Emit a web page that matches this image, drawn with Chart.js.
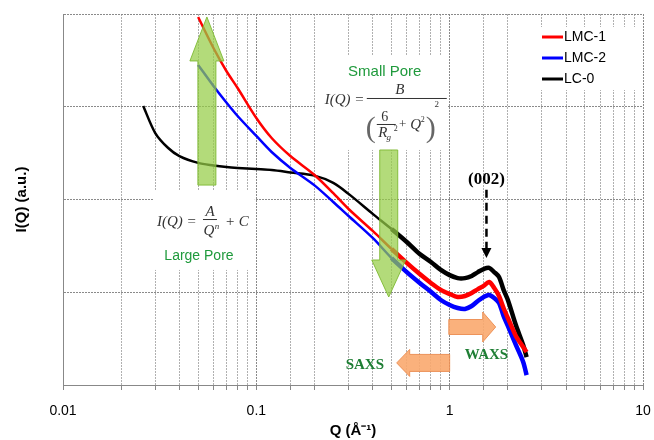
<!DOCTYPE html>
<html>
<head>
<meta charset="utf-8">
<script src="https://cdn.jsdelivr.net/npm/chart.js@4.4.0/dist/chart.umd.min.js"></script>
<style>
  html, body { margin: 0; padding: 0; background: #fff; }
  #wrap { width: 654px; height: 440px; }
</style>
</head>
<body>
<div id="wrap"><canvas id="chart" width="654" height="440"></canvas></div>
<script>
// Q values (1/Angstrom) and intensities (a.u.)
const qValues = [0.026, 0.03, 0.035, 0.04, 0.05, 0.06, 0.07, 0.08, 0.1, 0.12, 0.15, 0.2, 0.25, 0.3,
  0.4, 0.5, 0.6, 0.7, 0.8, 0.9, 1.0, 1.1, 1.2, 1.3, 1.4, 1.5, 1.6, 1.7, 1.8, 1.9, 2.0, 2.2, 2.4, 2.5];

const lmc1 = [null, null, null, null, 9290, 4300, 2430, 1593, 756, 460, 294, 184, 117, 79,
  45.8, 29.3, 20.7, 15.7, 12.6, 10.6, 9.58, 8.89, 9.11, 9.82, 10.8, 11.7, 12.9, 11.1, 9.11, 6.76, 5.28, 3.38, 2.57, 2.27];

const lmc2 = [null, null, null, null, 2820, 1675, 1111, 795, 484, 325, 219, 142, 94, 66.4,
  38.5, 23.4, 16.5, 12.6, 10.1, 8.25, 7.29, 6.76, 6.60, 7.11, 8.05, 8.89, 9.34, 8.67, 7.66, 5.55, 4.33, 2.70, 1.77, 1.28];

const lc0 = [1019, 521, 359, 294, 248, 233, 224, 219, 213, 208, 196, 181, 151, 115,
  70, 48, 34.8, 25.8, 21.2, 17.4, 15.3, 14.2, 14.2, 15.0, 16.5, 17.8, 18.3, 16.5, 14.6, 10.6, 8.25, 4.43, 2.70, 2.00];

const seriesLabels = ['LMC-1', 'LMC-2', 'LC-0'];
const seriesColors = ['#ff0000', '#0000ff', '#000000'];
const xDecades = [0.01, 0.1, 1, 10];
const yDecades = [1, 10, 100, 1000, 10000];

const toPoints = arr => qValues.map((q, i) => ({ x: q, y: arr[i] })).filter(p => p.y != null);

function blockArrow(ctx, x0, y0, x1, y1, shaftW, headW, headLen) {
  const len = Math.hypot(x1 - x0, y1 - y0);
  const ux = (x1 - x0) / len, uy = (y1 - y0) / len, nx = -uy, ny = ux;
  const bx = x1 - ux * headLen, by = y1 - uy * headLen;
  ctx.beginPath();
  ctx.moveTo(x0 + nx * shaftW, y0 + ny * shaftW);
  ctx.lineTo(bx + nx * shaftW, by + ny * shaftW);
  ctx.lineTo(bx + nx * headW, by + ny * headW);
  ctx.lineTo(x1, y1);
  ctx.lineTo(bx - nx * headW, by - ny * headW);
  ctx.lineTo(bx - nx * shaftW, by - ny * shaftW);
  ctx.lineTo(x0 - nx * shaftW, y0 - ny * shaftW);
  ctx.closePath();
  ctx.fill();
  ctx.stroke();
}

function txt(ctx, s, x, y, font, color, align) {
  ctx.font = font;
  ctx.fillStyle = color || '#000';
  ctx.textAlign = align || 'center';
  ctx.textBaseline = 'middle';
  ctx.fillText(s, x, y);
}

const serif = '"Liberation Serif", "Times New Roman", serif';
const sans = '"Liberation Sans", Arial, sans-serif';
const green = '#1f9a3c';

// white boxes behind the formulas and legend
const boxes = {
  large: { q0: 0.0292, q1: 0.0982, i0: 126.5, i1: 17.4 },
  small: { q0: 0.203, q1: 0.977, i0: 3614, i1: 342 }
};

const annotations = {
  id: 'annotations',
  beforeDatasetsDraw(chart) {
    const { ctx, chartArea: a } = chart;
    const xs = chart.scales.x, ys = chart.scales.y;
    ctx.save();
    ctx.fillStyle = '#fff';
    Object.values(boxes).forEach(b => {
      const x0 = xs.getPixelForValue(b.q0), x1 = xs.getPixelForValue(b.q1);
      const y0 = ys.getPixelForValue(b.i0), y1 = ys.getPixelForValue(b.i1);
      ctx.fillRect(x0, y0, x1 - x0, y1 - y0);
    });
    ctx.fillRect(a.right - 108, a.top + 13, 106, 63);
    ctx.restore();
  },
  afterDatasetsDraw(chart) {
    const { ctx, chartArea: a } = chart;
    const xs = chart.scales.x, ys = chart.scales.y;
    const px = q => xs.getPixelForValue(q), py = v => ys.getPixelForValue(v);
    ctx.save();

    // green arrows
    ctx.fillStyle = 'rgba(150, 205, 70, 0.72)';
    ctx.strokeStyle = 'rgba(125, 185, 50, 0.9)';
    ctx.lineWidth = 1;
    blockArrow(ctx, px(0.0555), py(143), px(0.0555), py(9290), 9, 17, 44);
    blockArrow(ctx, px(0.484), py(342), px(0.484), py(8.89), 9, 17, 37);

    // orange arrows
    ctx.fillStyle = 'rgba(250, 168, 110, 0.9)';
    ctx.strokeStyle = 'rgba(235, 140, 80, 0.9)';
    blockArrow(ctx, px(0.99), py(4.22), px(1.73), py(4.22), 7.5, 15, 13);
    blockArrow(ctx, px(1.0), py(1.73), px(0.532), py(1.73), 8.5, 13.5, 13);

    // (002) dashed arrow
    const xp = px(1.55);
    ctx.strokeStyle = '#000';
    ctx.fillStyle = '#000';
    ctx.lineWidth = 2.5;
    ctx.setLineDash([8, 5]);
    ctx.beginPath();
    ctx.moveTo(xp, py(127));
    ctx.lineTo(xp, py(23.4) - 8);
    ctx.stroke();
    ctx.setLineDash([]);
    ctx.beginPath();
    ctx.moveTo(xp - 5, py(23.4) - 10);
    ctx.lineTo(xp + 5, py(23.4) - 10);
    ctx.lineTo(xp, py(23.4));
    ctx.closePath();
    ctx.fill();
    txt(ctx, '(002)', xp, py(162), 'bold 17px ' + serif, '#000');

    // WAXS / SAXS
    txt(ctx, 'WAXS', px(1.55), py(2.1), 'bold 15px ' + serif, '#1e7e34');
    txt(ctx, 'SAXS', px(0.364), py(1.64), 'bold 15px ' + serif, '#1e7e34');

    // Large pore formula
    const lx = px(boxes.large.q0), ly = py(boxes.large.i0);
    const it = 'italic 15px ' + serif;
    txt(ctx, 'I(Q) =', lx + 4, ly + 32, it, '#333', 'left');
    txt(ctx, 'A', lx + 57, ly + 22, it, '#333');
    ctx.strokeStyle = '#333';
    ctx.lineWidth = 1;
    ctx.beginPath(); ctx.moveTo(lx + 50, ly + 29.5); ctx.lineTo(lx + 64, ly + 29.5); ctx.stroke();
    txt(ctx, 'Q', lx + 56, ly + 41, it, '#333');
    txt(ctx, 'n', lx + 64, ly + 37, 'italic 9px ' + serif, '#333');
    txt(ctx, '+ C', lx + 72, ly + 32, it, '#333', 'left');
    txt(ctx, 'Large Pore', lx + 46, ly + 66, '14px ' + sans, green);

    // Small pore formula
    const sx = px(boxes.small.q0), sy = py(boxes.small.i0);
    txt(ctx, 'Small Pore', sx + 69, sy + 17, '15px ' + sans, green);
    txt(ctx, 'I(Q) =', sx + 9, sy + 45, it, '#333', 'left');
    txt(ctx, 'B', sx + 84, sy + 35, it, '#333');
    ctx.beginPath(); ctx.moveTo(sx + 51, sy + 43.5); ctx.lineTo(sx + 131, sy + 43.5); ctx.stroke();
    txt(ctx, '(', sx + 55, sy + 74, '30px ' + serif, '#666');
    txt(ctx, ')', sx + 115, sy + 74, '30px ' + serif, '#666');
    txt(ctx, '2', sx + 121, sy + 50, '9px ' + serif, '#333');
    txt(ctx, '6', sx + 69, sy + 62, '14px ' + serif, '#333');
    ctx.beginPath(); ctx.moveTo(sx + 61, sy + 69.5); ctx.lineTo(sx + 80, sy + 69.5); ctx.stroke();
    txt(ctx, 'R', sx + 67, sy + 78, it, '#333');
    txt(ctx, 'g', sx + 73, sy + 83, 'italic 9px ' + serif, '#333');
    txt(ctx, '2', sx + 80, sy + 74, '8px ' + serif, '#333');
    txt(ctx, '+', sx + 87, sy + 70, '13px ' + serif, '#333');
    txt(ctx, 'Q', sx + 100, sy + 70, it, '#333');
    txt(ctx, '2', sx + 107, sy + 65, '8px ' + serif, '#333');

    // legend
    chart.data.datasets.forEach((ds, i) => {
      const y = a.top + 23 + i * 21;
      ctx.strokeStyle = ds.borderColor;
      ctx.lineWidth = 3;
      ctx.beginPath(); ctx.moveTo(a.right - 101, y); ctx.lineTo(a.right - 80, y); ctx.stroke();
      txt(ctx, ds.label, a.right - 79, y, '14px ' + sans, '#000', 'left');
    });
    ctx.restore();
  }
};

const isDecade = v => Math.abs(Math.log10(v) - Math.round(Math.log10(v))) < 1e-6;

new Chart(document.getElementById('chart'), {
  type: 'line',
  data: {
    datasets: [lmc1, lmc2, lc0].map((arr, i) => ({
      label: seriesLabels[i],
      data: toPoints(arr),
      borderColor: seriesColors[i],
      backgroundColor: seriesColors[i],
      borderWidth: 2.5,
      pointRadius: 0,
      tension: 0.3,
      fill: false,
      segment: { borderWidth: c => (c.p0.parsed.x >= 0.5 ? 4.5 : 2.5) }
    }))
  },
  options: {
    responsive: false,
    animation: false,
    devicePixelRatio: 1,
    layout: { padding: { top: 14, right: 11, left: 0, bottom: 0 } },
    plugins: { legend: { display: false }, tooltip: { enabled: false } },
    scales: {
      x: {
        type: 'logarithmic',
        min: 0.01,
        max: 10,
        afterFit: s => { s.height = 55; s.paddingLeft = 0; s.paddingRight = 0; },
        ticks: {
          autoSkip: false,
          maxRotation: 0,
          padding: 13,
          color: '#000',
          font: { family: 'Liberation Sans', size: 14 },
          callback: v => {
            if (!isDecade(v)) return '';
            const lbl = xDecades.find(d => Math.abs(d - v) / d < 1e-6);
            return lbl === undefined ? '' : String(lbl);
          }
        },
        grid: {
          color: c => (c.tick && isDecade(c.tick.value) ? '#8a8a8a' : '#b0b0b0'),
          lineWidth: 1,
          tickLength: 5,
          tickColor: '#888'
        },
        border: { color: '#888', width: 1, dash: [2, 1] },
        title: {
          display: true,
          text: 'Q (Å⁻¹)',
          color: '#000',
          font: { family: 'Liberation Sans', size: 15, weight: 'bold' },
          padding: { top: 0, bottom: 0 }
        }
      },
      y: {
        type: 'logarithmic',
        min: 1,
        max: 10000,
        afterFit: s => { s.width = 63; },
        afterBuildTicks: s => { s.ticks = yDecades.map(v => ({ value: v })); },
        ticks: { display: false },
        grid: { color: '#8a8a8a', lineWidth: 1, drawTicks: false },
        border: { color: '#888', width: 1, dash: [2, 1] },
        title: {
          display: true,
          text: 'I(Q) (a.u.)',
          color: '#000',
          font: { family: 'Liberation Sans', size: 15, weight: 'bold' },
          padding: { top: 13, bottom: 0 }
        }
      }
    }
  },
  plugins: [annotations]
});
</script>
</body>
</html>
